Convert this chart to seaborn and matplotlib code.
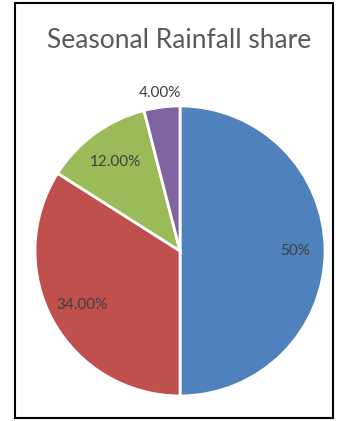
import numpy as np
import matplotlib
matplotlib.use("Agg")
import matplotlib.pyplot as plt
import matplotlib.patches as mpatches
import seaborn as sns

sns.set_theme(style="white")
plt.rcParams['font.family'] = ['Lato', 'DejaVu Sans']

seasons = ["Monsoon", "Post-monsoon", "Winter", "Pre-monsoon"]
shares = [50, 34, 12, 4]
share_labels = ["50%", "34.00%", "12.00%", "4.00%"]
colors = ["#4F81BD", "#C0504D", "#9BBB59", "#8064A2"]
label_dist = [0.79, 0.77, 0.76, 1.10]

fig = plt.figure(figsize=(3.38, 4.21), dpi=100)
ax = fig.add_axes([0.1036, 0.0594, 0.858, 0.689])
wedges, _ = ax.pie(shares, colors=colors, startangle=90, counterclock=False,
                   radius=1.0, wedgeprops=dict(edgecolor="white", linewidth=2))
for w, lab, d in zip(wedges, share_labels, label_dist):
    ang = np.deg2rad((w.theta1 + w.theta2) / 2)
    ax.text(d * np.cos(ang), d * np.sin(ang), lab, ha="center", va="center",
            fontsize=11, color="#404040")
ax.set_xlim(-1, 1)
ax.set_ylim(-1, 1)
ax.set_aspect("equal")
ax.axis("off")

fig.text(0.53, 0.903, "Seasonal Rainfall share", ha="center", va="center",
         fontsize=19, color="#595959")

rect = mpatches.Rectangle((15 / 338, 3 / 421), (333 - 15) / 338, (418 - 3) / 421,
                          transform=fig.transFigure, fill=False, edgecolor="black",
                          linewidth=1.5)
fig.patches.append(rect)

fig.savefig("out.png", dpi=100)
